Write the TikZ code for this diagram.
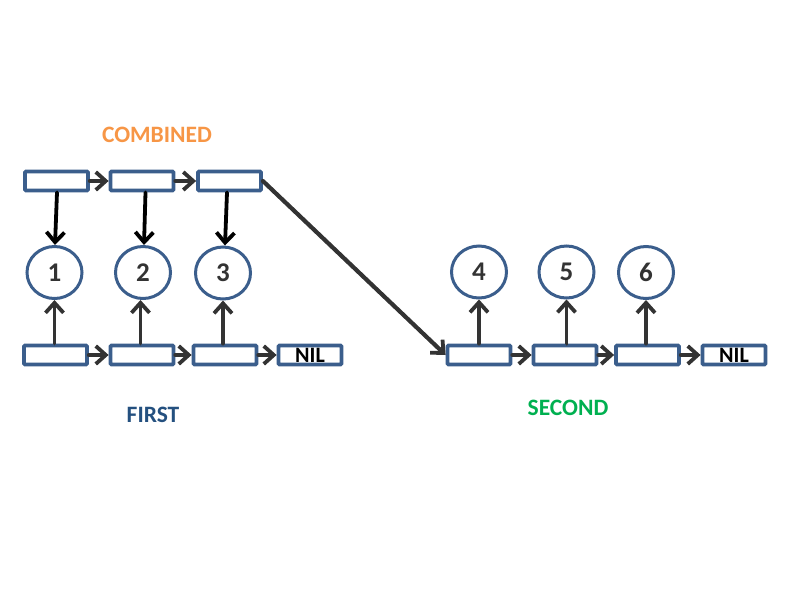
\documentclass[tikz,border=0pt]{standalone}
\usepackage{fontspec}
\setmainfont{Carlito}
\usetikzlibrary{arrows.meta,shapes.geometric}
\definecolor{boxblue}{HTML}{3B5E8C}
\definecolor{arrowgray}{HTML}{333333}
\definecolor{comborange}{HTML}{F79646}
\definecolor{firstblue}{HTML}{24507F}
\definecolor{secondgreen}{HTML}{00B050}
\tikzset{
  cell/.style={draw=boxblue, line width=3.8pt, rounded corners=1pt, minimum width=63pt, minimum height=19pt, inner sep=0pt, fill=white, font=\fontsize{22}{24}\selectfont\bfseries},
  valnode/.style={ellipse, draw=boxblue, line width=3pt, minimum width=55pt, minimum height=52pt, inner sep=0pt, text=arrowgray, font=\fontsize{27}{30}\selectfont\bfseries},
  label/.style={font=\fontsize{23.5}{26}\selectfont\bfseries, inner sep=0pt},
  link/.style={draw=arrowgray, line width=4.2pt, line cap=round, -{Straight Barb[length=10pt,width=18pt,line width=3.8pt]}},
  ptrdown/.style={draw=black, line width=3.8pt, line cap=round, -{Straight Barb[length=10pt,width=18pt,line width=3.8pt]}},
  ptrup/.style={draw=arrowgray, line width=3.8pt, line cap=round, -{Straight Barb[length=10pt,width=18pt,line width=3.8pt]}}
}
\begin{document}
\begin{tikzpicture}[x=1pt,y=-1pt]
\useasboundingbox (0,0) rectangle (800,600);
% labels
\node[label, text=comborange] (lc) at (157,135) {COMBINED};
\node[label, text=firstblue] (lf) at (153,415) {FIRST};
\node[label, text=secondgreen] (ls) at (568,408) {SECOND};
% combined row
\node[cell] (cb1) at (56.5,181) {};
\node[cell] (cb2) at (142,181) {};
\node[cell] (cb3) at (229.5,181) {};
% value circles
\node[valnode] (n1) at (54.5,272.5) {1};
\node[valnode] (n2) at (143,272.5) {2};
\node[valnode] (n3) at (223,273) {3};
\node[valnode] (n4) at (479,272) {4};
\node[valnode] (n5) at (566.5,272) {5};
\node[valnode] (n6) at (646,272.5) {6};
% first row
\node[cell] (fb1) at (55.5,355) {};
\node[cell] (fb2) at (142,355) {};
\node[cell] (fb3) at (225,355) {};
\node[cell] (fnil) at (310,355) {NIL};
% second row
\node[cell] (sb1) at (479,355) {};
\node[cell] (sb2) at (565,355) {};
\node[cell] (sb3) at (647.5,355) {};
\node[cell] (snil) at (734,355) {NIL};
% combined links
\draw[link] (cb1.east) -- (cb2.west);
\draw[link] (cb2.east) -- (cb3.west);
\draw[link] (cb3.east) -- (sb1.west);
\draw[ptrdown] ([xshift=0.5pt]cb1.south) -- ([xshift=0.5pt]n1.north);
\draw[ptrdown] ([xshift=3.5pt]cb2.south) -- ([xshift=1pt]n2.north);
\draw[ptrdown] ([xshift=-2.5pt]cb3.south) -- ([xshift=2pt]n3.north);
% first links
\draw[link] (fb1.east) -- (fb2.west);
\draw[link] (fb2.east) -- (fb3.west);
\draw[link] (fb3.east) -- (fnil.west);
\draw[ptrup] (n1.south |- fb1.north) -- (n1.south);
\draw[ptrup] ([xshift=-2.5pt]n2.south |- fb2.north) -- ([xshift=-2.5pt]n2.south);
\draw[ptrup] (n3.south |- fb3.north) -- (n3.south);
% second links
\draw[link] (sb1.east) -- (sb2.west);
\draw[link] (sb2.east) -- (sb3.west);
\draw[link] (sb3.east) -- (snil.west);
\draw[ptrup] (n4.south |- sb1.north) -- (n4.south);
\draw[ptrup] (n5.south |- sb2.north) -- (n5.south);
\draw[ptrup] (n6.south |- sb3.north) -- (n6.south);
\end{tikzpicture}
\end{document}
